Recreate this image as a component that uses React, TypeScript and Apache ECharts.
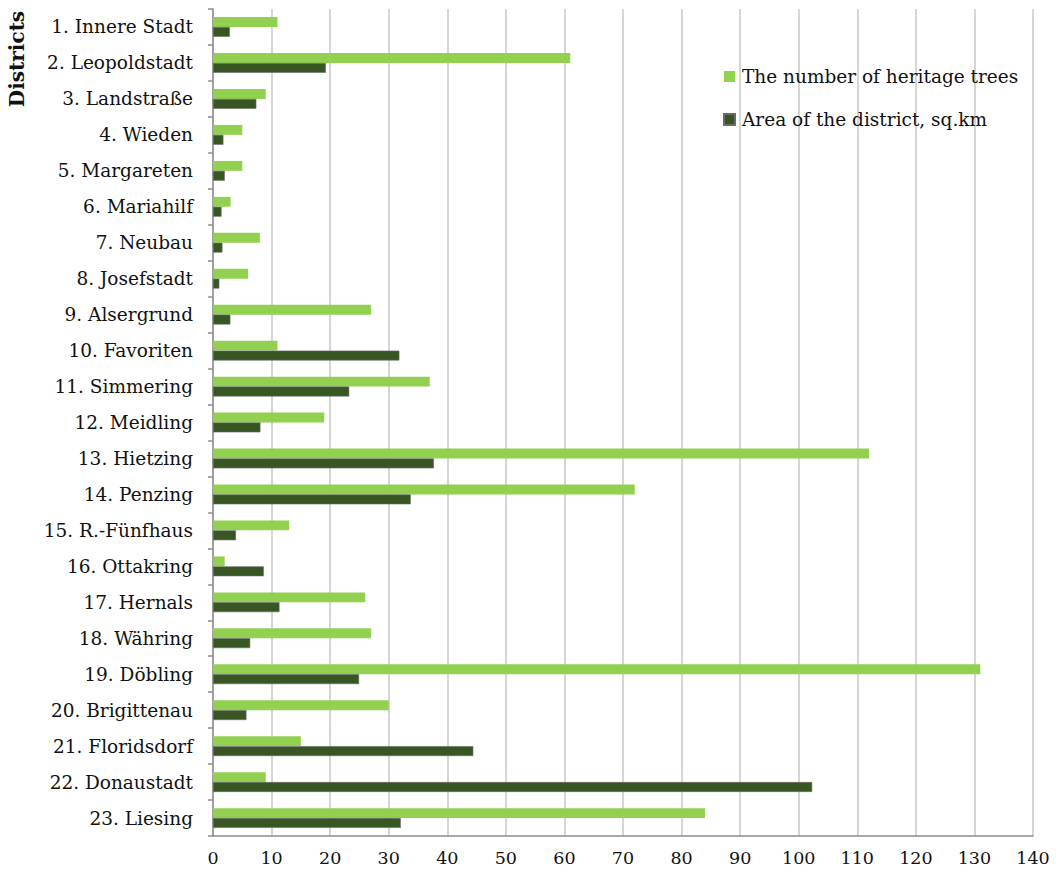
import React, { useEffect, useRef } from "react";
import * as echarts from "echarts";

const districts = [
  "1. Innere Stadt",
  "2. Leopoldstadt",
  "3. Landstraße",
  "4. Wieden",
  "5. Margareten",
  "6. Mariahilf",
  "7. Neubau",
  "8. Josefstadt",
  "9. Alsergrund",
  "10. Favoriten",
  "11. Simmering",
  "12. Meidling",
  "13. Hietzing",
  "14. Penzing",
  "15. R.-Fünfhaus",
  "16. Ottakring",
  "17. Hernals",
  "18. Währing",
  "19. Döbling",
  "20. Brigittenau",
  "21. Floridsdorf",
  "22. Donaustadt",
  "23. Liesing",
];

const heritageTrees = [11, 61, 9, 5, 5, 3, 8, 6, 27, 11, 37, 19, 112, 72, 13, 2, 26, 27, 131, 30, 15, 9, 84];

const areaSqKm = [
  2.87, 19.27, 7.4, 1.78, 2.01, 1.46, 1.61, 1.08, 2.97, 31.82, 23.26, 8.1, 37.72, 33.76, 3.92, 8.67, 11.35,
  6.35, 24.94, 5.71, 44.44, 102.3, 32.06,
];

const seriesNames = ["The number of heritage trees", "Area of the district, sq.km"];
const FONT = "DejaVu Serif";

export default function App() {
  const ref = useRef<HTMLDivElement>(null);

  useEffect(() => {
    if (!ref.current) return;
    const chart = echarts.init(ref.current, undefined, { renderer: "svg" });
    chart.setOption({
      animation: false,
      backgroundColor: "#ffffff",
      textStyle: { fontFamily: FONT },
      grid: { left: 213, right: 28, top: 9, bottom: 41, containLabel: false },
      legend: {
        orient: "vertical",
        left: 718,
        top: 62,
        itemWidth: 11,
        itemHeight: 11,
        itemGap: 24,
        icon: "rect",
        textStyle: { fontFamily: FONT, fontSize: 18.5, color: "#111111", padding: [0, 0, 0, 2] },
        data: seriesNames,
      },
      xAxis: {
        type: "value",
        min: 0,
        max: 140,
        interval: 10,
        axisLine: { show: true, lineStyle: { color: "#8c8c8c", width: 1.5 } },
        axisTick: { show: false },
        axisLabel: { fontFamily: FONT, fontSize: 17.5, color: "#111111", margin: 13 },
        splitLine: { show: true, lineStyle: { color: "#c8c8c8", width: 1.5 } },
      },
      yAxis: {
        type: "category",
        inverse: true,
        data: districts,
        axisLine: { show: true, lineStyle: { color: "#8c8c8c", width: 1.5 } },
        axisTick: { show: true, length: 5, lineStyle: { color: "#8c8c8c", width: 1.5 } },
        axisLabel: { fontFamily: FONT, fontSize: 18.5, color: "#111111", margin: 20 },
        splitLine: { show: false },
      },
      graphic: [
        {
          type: "text",
          x: 17,
          y: 59,
          rotation: Math.PI / 2,
          style: {
            text: "Districts",
            fontFamily: FONT,
            fontSize: 20,
            fontWeight: "bold",
            fill: "#111111",
            align: "center",
            verticalAlign: "middle",
          },
        },
      ],
      series: [
        {
          name: seriesNames[0],
          type: "bar",
          data: heritageTrees,
          barGap: "0%",
          barCategoryGap: "45%",
          itemStyle: { color: "#92d050" },
        },
        {
          name: seriesNames[1],
          type: "bar",
          data: areaSqKm,
          barGap: "0%",
          barCategoryGap: "45%",
          itemStyle: { color: "#375623", borderColor: "#6b6b6b", borderWidth: 0.6 },
        },
      ],
    });
    return () => chart.dispose();
  }, []);

  return (
    <div
      ref={ref}
      style={{ position: "fixed", left: 0, top: 0, width: 1061, height: 877, background: "#ffffff" }}
    />
  );
}
